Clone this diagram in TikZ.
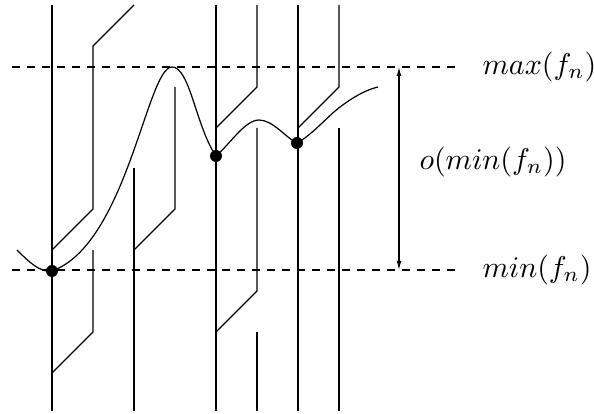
\documentclass[tikz,border=0pt]{standalone}
\usepackage{amsmath, amssymb}
\usetikzlibrary{arrows.meta,positioning}

\begin{document}
\begin{tikzpicture}[x=0.3333pt, y=0.3333pt,
  track/.style={line width=0.4pt},
  level/.style={line width=0.4pt, dash pattern=on 2.6pt off 2.4pt},
  extremum/.style={circle, fill, inner sep=0pt, minimum size=4pt},
  bound/.style={anchor=west, inner sep=0pt}
]
  \useasboundingbox (0,0) rectangle (594,414);
  % straight tracks
  \foreach \x in {52,216,298}
    \draw[track] (\x,409) -- (\x,3);
  % tracks that jump across
  \draw[track] (134,409) -- (93,368) -- (93,205) -- (52,164);
  \draw[track] (93,164) -- (93,82) -- (52,41);
  \draw[track] (134,246) -- (134,3);
  \draw[track] (175,327) -- (175,205) -- (134,164);
  \draw[track] (257,409) -- (257,327) -- (216,286);
  \draw[track] (257,286) -- (257,123) -- (216,82);
  \draw[track] (257,82) -- (257,3);
  \draw[track] (339,409) -- (339,327) -- (298,286);
  \draw[track] (339,286) -- (339,3);
  % upper and lower levels
  \draw[level] (12,347) -- (460,347);
  \draw[level] (12,144) -- (460,144);
  % the function
  \draw[track] (17,164) .. controls (28,153) and (40,141) .. (52,143)
    .. controls (127,170) and (147,347) .. (172,347)
    .. controls (190,347) and (196,287) .. (216,258)
    .. controls (230,270) and (245,294) .. (259,294)
    .. controls (273,294) and (286,276) .. (297,271)
    .. controls (312,279) and (328,298) .. (340,307)
    .. controls (352,316) and (365,324) .. (378,327);
  \node[extremum] (m1) at (52,143) {};
  \node[extremum] (m2) at (216,258) {};
  \node[extremum] (m3) at (297,271) {};
  % range arrow
  \coordinate (hi) at (399,347);
  \coordinate (lo) at (399,144);
  \draw[track, {Latex[length=3pt,width=1.6pt]}-{Latex[length=3pt,width=1.6pt]}]
    (hi) -- (lo);
  \node[bound] (maxf) at (482,347) {$max(f_n)$};
  \node[bound] (minf) at (482,144) {$min(f_n)$};
  \node[inner sep=0pt] (range) at (493,252) {$o(min(f_n))$};
\end{tikzpicture}
\end{document}
